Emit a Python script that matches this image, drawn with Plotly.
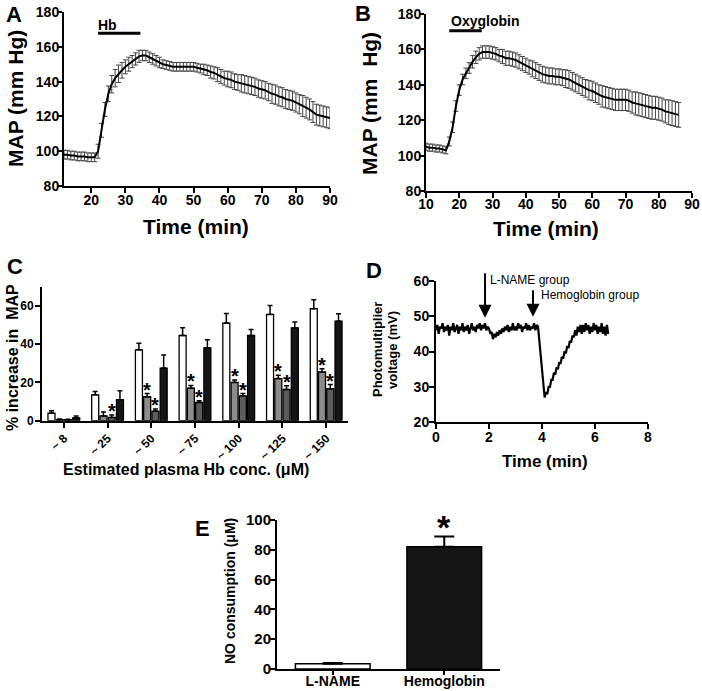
import plotly.graph_objects as go

W, H = 702, 691
FONT = "Liberation Sans, Arial, sans-serif"

# ---------------- Data ----------------
# Panel A: MAP after Hb infusion
a_time = list(range(12, 91))
a_map = [98, 98, 97.5, 97.5, 97, 97, 97, 96.5, 96.5, 96.5,
         100, 112, 124, 133, 138.5, 142, 144.5, 146.5, 148.5, 150,
         151.5, 153, 154.5, 155, 155, 154, 153, 152, 151, 150,
         149.5, 149, 148.5, 148.5, 148.5, 148.5, 148.5, 148.5, 148.5, 148,
         147.5, 147, 146.5, 145.5, 145, 144, 143, 142, 141.5, 141,
         140, 139.5, 139, 138.5, 138, 137.5, 137, 136, 135.5, 135,
         134, 133, 132.5, 131.5, 131, 130, 129.5, 129, 128, 127,
         126, 125, 124, 122.5, 121, 120.5, 120, 119.5, 119]
a_err = [2.5] * 10 + \
        [4, 4, 4, 4.5, 5, 5, 5, 4.5, 4, 4] + \
        [3.5, 3.5, 3.5, 3, 3, 3, 3, 3, 3, 2.5] + \
        [2.5] * 10 + \
        [2.5, 3, 3, 3.5, 3.5, 4, 4, 4, 4.5, 4.5] + \
        [4.5, 4.5, 5, 5, 5, 5, 5, 5, 5, 5] + \
        [5, 5.5, 5.5, 5.5, 5.5, 5.5, 5.5, 5.5, 5.5, 5.5] + \
        [6] * 9
hb_infusion = [22, 34.4]
hb_bar_level = 167.8

# Panel B: MAP after Oxyglobin infusion
b_time = list(range(10, 87))
b_map = [105, 104.5, 104.5, 104, 104, 103.5, 103, 108, 116, 128,
         137, 143, 146.5, 149.5, 153, 155.5, 157.5, 158.5, 158.5, 158.5,
         158, 157.5, 156.5, 156, 155, 155, 154.5, 154, 153, 152,
         151, 150, 149, 148, 147, 146, 145.5, 145, 145, 144.5,
         144.5, 144, 143.5, 143, 142, 141, 140, 139, 138, 137,
         136.5, 135.5, 134.5, 133.5, 133, 132.5, 132, 131.5, 131.5, 131.5,
         131.5, 131, 130, 129.5, 129, 128.5, 128, 127.5, 127, 127,
         126.5, 126, 125, 124.5, 124, 123.5, 123]
b_err = [2, 2, 2, 2, 2, 2, 2, 2.5, 3, 3,
         3, 3, 3, 3, 3.5, 3.5, 3.5, 3.5, 3.5, 3.5,
         3.5, 3.5, 3.5, 4, 4, 4, 4, 4, 4, 4,
         4, 4, 4.5, 4.5, 4.5, 4.5, 4.5, 4.5, 4.5, 4.5,
         4.5, 4.5, 5, 5, 5, 5, 5, 5, 5, 5.5,
         5.5, 5.5, 5.5, 6, 6, 6, 6, 6, 6, 6,
         6, 6, 6, 6.5, 6.5, 6.5, 6.5, 6.5, 6.5, 6.5,
         6.5, 6.5, 6.5, 7, 7, 7, 7]
oxy_infusion = [17.0, 26.75]
oxy_bar_level = 170.6

# Panel C: % increase in MAP vs estimated plasma Hb
c_cats = ["~ 8", "~ 25", "~ 50", "~ 75", "~ 100", "~ 125", "~ 150"]
c_white = [4, 13.5, 37, 44.5, 51, 55.5, 58.5]
c_white_err = [1.2, 1.8, 3.5, 4, 5, 4.7, 4.7]
c_light = [0.6, 2.5, 12.5, 17, 20, 22, 25.5]
c_light_err = [0.3, 2.1, 1.7, 1.4, 1.3, 1.7, 1.7]
c_dark = [0.5, 1.7, 5, 9.5, 13, 16.3, 16.7]
c_dark_err = [0.3, 1.3, 1.1, 0.9, 1.2, 1.9, 2.2]
c_black = [1.5, 11, 27.5, 38, 44.5, 48.5, 52]
c_black_err = [1, 4.7, 6.8, 4.3, 3.2, 3, 3.9]
c_light_star = [0, 0, 1, 1, 1, 1, 1]
c_dark_star = [0, 1, 1, 1, 1, 1, 1]

# Panel D: photomultiplier trace
d_time = [round(i * 0.05, 2) for i in range(131)]
d_volt = [46, 47.5, 45, 47, 46.5, 48, 45.5, 47, 46, 47.5, 44.5, 47, 46, 48, 45.5, 46.5, 47.5, 45, 47, 46,
          48, 45.5, 47, 46, 47.5, 45, 46.5, 48, 46, 47, 45.5, 47.5, 46.5, 48, 46, 47.5, 46.5, 48, 46, 47,
          46.5, 45, 45.5, 43.5, 45, 44, 45.5, 44.5, 46, 45, 46.5, 45.5, 47, 46, 47.5, 45.5, 47, 46, 48, 46,
          47, 46, 48, 46.5, 47.5, 45.5, 47, 46.5, 48, 46, 47.5, 46, 47, 46.5, 48, 46, 47.5, 47, 43, 38.5,
          34, 30, 27, 28.5, 28, 30, 30, 32, 32, 34, 33.5, 35.5, 35, 37, 36.5, 38.5, 38, 40, 39.5, 41.5,
          41, 43, 42.5, 44.5, 44, 46, 44.5, 47, 45.5, 47.5, 45, 47.5, 45.5, 48, 46, 47.5, 45, 47, 45.5, 48,
          46, 47.5, 45, 47, 45.5, 48, 45, 47, 44.5, 47.5, 45]
d_arrow_lname = [1.85, 62.5, 49.5]   # x, tail y, head y
d_arrow_hb = [3.66, 57.7, 49.8]

# Panel E: NO consumption
e_cats = ["L-NAME", "Hemoglobin"]
e_vals = [3.5, 82]
e_err = [0.6, 7]


# ---------------- Helpers ----------------
def px(x):
    return x / W


def py(y):
    return 1 - y / H


def axis_style(size=14, **kw):
    d = dict(showline=True, linecolor="black", linewidth=2, mirror=False,
             ticks="outside", ticklen=5, tickwidth=2, tickcolor="black",
             showgrid=False, zeroline=False, automargin=False, fixedrange=True,
             tickfont=dict(family=FONT, size=size, color="black", weight="bold"))
    d.update(kw)
    return d


fig = go.Figure()

# A
fig.add_trace(go.Scatter(x=a_time, y=a_map, mode="lines", xaxis="x", yaxis="y",
                         line=dict(color="black", width=2),
                         error_y=dict(type="data", array=a_err, color="#444444", thickness=1, width=2.5)))
# B
fig.add_trace(go.Scatter(x=b_time, y=b_map, mode="lines", xaxis="x2", yaxis="y2",
                         line=dict(color="black", width=2),
                         error_y=dict(type="data", array=b_err, color="#444444", thickness=1, width=2.5)))

# C
C_GAP = 0.245
C_GROUPGAP = 0.15
slot = (1 - C_GAP) / 4
bar_w = slot * (1 - C_GROUPGAP)
c_series = [(c_white, c_white_err, "white"), (c_light, c_light_err, "#8c8c8c"),
            (c_dark, c_dark_err, "#5c5c5c"), (c_black, c_black_err, "#151515")]
for i, (vals, errs, col) in enumerate(c_series):
    off = -(1 - C_GAP) / 2 + slot * i + (slot - bar_w) / 2
    fig.add_trace(go.Bar(x=c_cats, y=vals, xaxis="x3", yaxis="y3", width=bar_w, offset=off,
                         marker=dict(color=col, line=dict(color="black", width=1.3)),
                         error_y=dict(type="data", symmetric=False, array=errs,
                                      arrayminus=[0] * len(errs), color="black",
                                      thickness=1.5, width=2.5)))

# D
fig.add_trace(go.Scatter(x=d_time, y=d_volt, mode="lines", xaxis="x4", yaxis="y4",
                         line=dict(color="black", width=2.2)))

# E
fig.add_trace(go.Bar(x=e_cats, y=e_vals, xaxis="x5", yaxis="y5", width=0.67,
                     marker=dict(color=["white", "#151515"], line=dict(color="black", width=1.5)),
                     error_y=dict(type="data", symmetric=False, array=e_err, arrayminus=[0, 0],
                                  color="black", thickness=2, width=10)))

fig.update_layout(
    width=W, height=H, margin=dict(l=0, r=0, t=0, b=0, autoexpand=False),
    paper_bgcolor="white", plot_bgcolor="white", showlegend=False,
    barmode="overlay",
    font=dict(family=FONT, color="black"),
    xaxis=axis_style(domain=[px(64), px(330)], range=[12, 90], tickvals=list(range(20, 91, 10)),
                     anchor="y", ticklabelstandoff=-5),
    yaxis=axis_style(domain=[py(186), py(12)], range=[80, 180], dtick=20, anchor="x",
                     ticklabelstandoff=-5),
    xaxis2=axis_style(domain=[px(426), px(692)], range=[10, 90], dtick=10, anchor="y2",
                      ticklabelstandoff=-6),
    yaxis2=axis_style(domain=[py(191), py(14)], range=[80, 180], dtick=20, anchor="x2",
                      ticklabelstandoff=-5),
    xaxis3=axis_style(size=12, domain=[px(42), px(348)], tickangle=-45, anchor="y3",
                      range=[-0.5, 6.5], ticklabelstandoff=-1),
    yaxis3=axis_style(size=12, domain=[py(420.7), py(286.7)], range=[0, 70], tickvals=[0, 20, 40, 60],
                      anchor="x3", ticklabelstandoff=-1),
    xaxis4=axis_style(domain=[px(436), px(648)], range=[0, 8], dtick=2, anchor="y4",
                      ticklabelstandoff=-4),
    yaxis4=axis_style(domain=[py(422.3), py(280.7)], range=[20, 60], dtick=10, anchor="x4",
                      ticklabelstandoff=-3),
    xaxis5=axis_style(domain=[px(277), px(500)], anchor="y5", range=[-0.5, 1.5], ticklen=4,
                      ticklabelstandoff=-6),
    yaxis5=axis_style(size=15, domain=[py(669), py(520)], range=[0, 100], dtick=20, anchor="x5",
                      ticklabelstandoff=-4),
)

shapes = []
annotations = []

# Infusion bars
shapes.append(dict(type="line", xref="x", yref="y", x0=hb_infusion[0], x1=hb_infusion[1],
                   y0=hb_bar_level, y1=hb_bar_level, line=dict(color="black", width=3)))
shapes.append(dict(type="line", xref="x2", yref="y2", x0=oxy_infusion[0], x1=oxy_infusion[1],
                   y0=oxy_bar_level, y1=oxy_bar_level, line=dict(color="black", width=3)))
annotations.append(dict(x=24.9, y=172.5, xref="x", yref="y", text="Hb", showarrow=False,
                        font=dict(size=14, weight="bold")))
annotations.append(dict(x=27.7, y=176, xref="x2", yref="y2", text="Oxyglobin", showarrow=False,
                        font=dict(size=14, weight="bold")))

# Stars in C
centers = [-(1 - C_GAP) / 2 + slot * (i + 0.5) for i in range(4)]
for k in range(len(c_cats)):
    if c_light_star[k]:
        annotations.append(dict(x=k + centers[1], y=c_light[k] + c_light_err[k], xref="x3", yref="y3",
                                text="*", showarrow=False, yanchor="middle", yshift=4,
                                font=dict(size=20, weight="bold")))
    if c_dark_star[k]:
        annotations.append(dict(x=k + centers[2], y=c_dark[k] + c_dark_err[k], xref="x3", yref="y3",
                                text="*", showarrow=False, yanchor="middle", yshift=4,
                                font=dict(size=20, weight="bold")))

# Star in E
annotations.append(dict(x=1, y=e_vals[1] + e_err[1], xref="x5", yref="y5", text="*", showarrow=False,
                        yanchor="middle", yshift=9, font=dict(size=34, weight="bold")))

# Arrows in D
for xa, ytail, yhead in [d_arrow_lname, d_arrow_hb]:
    annotations.append(dict(x=xa, y=yhead, ax=xa, ay=ytail, xref="x4", yref="y4", axref="x4", ayref="y4",
                            text="", showarrow=True, arrowhead=2, arrowsize=1.3, arrowwidth=2,
                            arrowcolor="black", standoff=0))


def label(text, x, y, size, angle=0, weight="bold", xanchor="center"):
    annotations.append(dict(x=px(x), y=py(y), xref="paper", yref="paper", text=text, showarrow=False,
                            textangle=angle, xanchor=xanchor, yanchor="middle",
                            font=dict(size=size, weight=weight)))


label("L-NAME group", 488, 279.5, 12, weight="normal", xanchor="left")
label("Hemoglobin group", 539, 295, 12, weight="normal", xanchor="left")

# Axis titles
label("MAP (mm Hg)", 16, 99, 21, -90)
label("Time (min)", 196, 226, 21)
label("MAP (mm\u00a0 Hg)", 370, 104, 21, -90)
label("Time (min)", 546, 228, 21)
label("% increase in\u00a0 MAP", 12, 358, 16, -90)
label("Estimated plasma Hb conc. (\u03bcM)", 186, 469, 16)
label("Photomultiplier", 377, 350, 13, -90)
label("voltage (mV)", 392, 350, 13, -90)
label("Time (min)", 545, 461, 17)
label("NO consumption (\u03bcM)", 230, 591, 14, -90)

# Panel letters
label("A", 14, 14.5, 22)
label("B", 363, 13, 22)
label("C", 15, 266, 22)
label("D", 374, 270, 22)
label("E", 202, 528, 22)

fig.update_layout(shapes=shapes, annotations=annotations)
fig.write_html("out.html", config={"displayModeBar": False},
               post_script="document.body.style.margin='0';document.body.style.overflow='hidden';")
